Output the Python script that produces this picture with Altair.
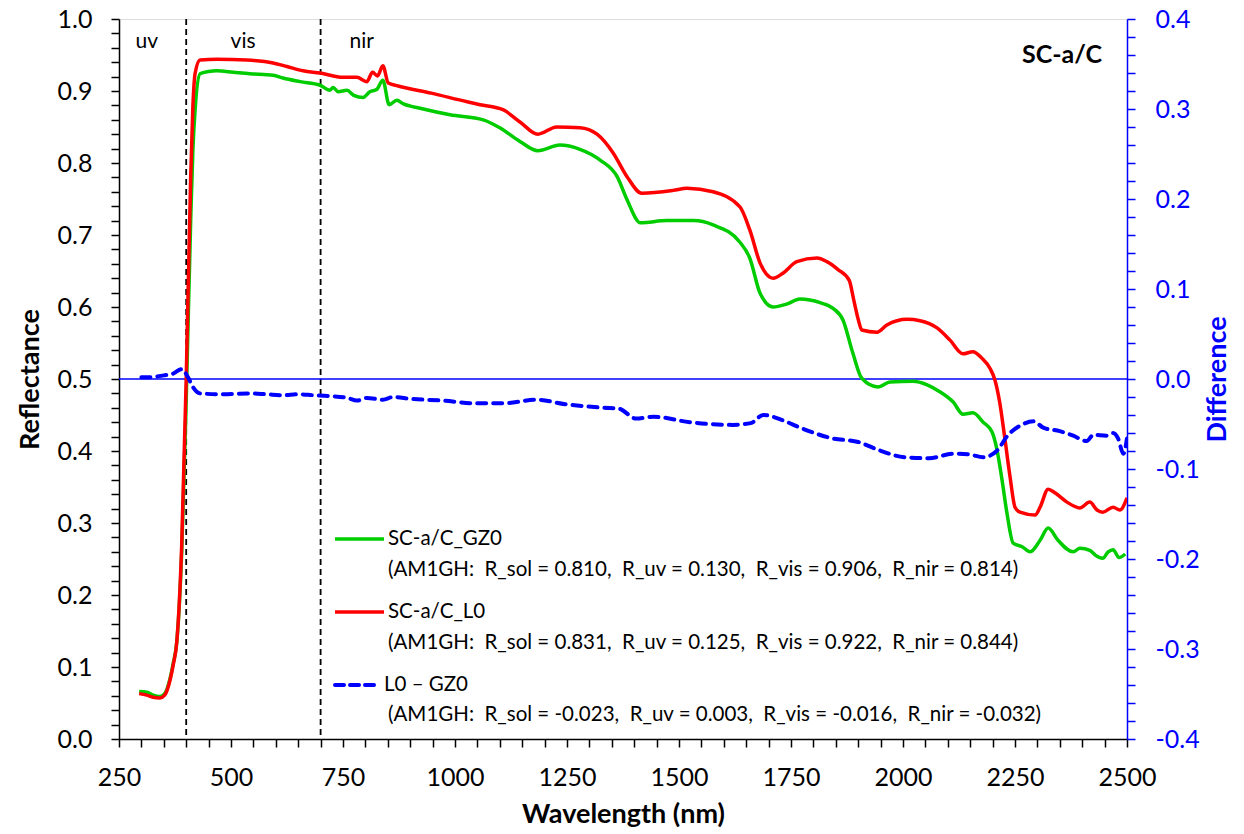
import altair as alt
import pandas as pd

# ---------------- data ----------------
wl_gz0 = [295, 312, 326, 341, 352, 364, 371, 379, 390, 400, 410, 415, 420, 431, 450, 468, 505, 542,
          594, 616, 654, 699, 721, 728, 739, 759, 774, 795, 810, 825, 839, 853, 870, 885, 922, 989,
          1063, 1100, 1145, 1185, 1234, 1279, 1324, 1362, 1384, 1414, 1473, 1533, 1576, 1636, 1658,
          1681, 1710, 1740, 1770, 1815, 1844, 1866, 1888, 1908, 1944, 1971, 2022, 2054, 2083, 2112,
          2134, 2156, 2179, 2199, 2210, 2221, 2232, 2246, 2266, 2284, 2306, 2324, 2346, 2380, 2395,
          2417, 2430, 2446, 2458, 2469, 2482, 2496]
r_gz0 = [0.066, 0.065, 0.061, 0.059, 0.063, 0.084, 0.105, 0.135, 0.26, 0.47, 0.72, 0.82, 0.875, 0.924,
         0.927, 0.928, 0.926, 0.924, 0.922, 0.918, 0.913, 0.908, 0.901, 0.905, 0.899, 0.901, 0.894,
         0.891, 0.899, 0.902, 0.915, 0.881, 0.887, 0.882, 0.876, 0.867, 0.860, 0.849, 0.830, 0.817,
         0.825, 0.819, 0.804, 0.781, 0.749, 0.717, 0.720, 0.720, 0.714, 0.690, 0.668, 0.619, 0.600,
         0.604, 0.611, 0.606, 0.598, 0.582, 0.536, 0.501, 0.489, 0.496, 0.497, 0.492, 0.482, 0.468,
         0.451, 0.453, 0.440, 0.426, 0.401, 0.360, 0.314, 0.272, 0.267, 0.260, 0.276, 0.293, 0.276,
         0.260, 0.265, 0.262, 0.255, 0.251, 0.260, 0.263, 0.252, 0.257]

wl_l0 = [295, 312, 326, 341, 352, 364, 371, 379, 390, 400, 410, 415, 420, 431, 468, 535, 594, 625,
         661, 699, 750, 781, 803, 816, 827, 839, 851, 873, 947, 1027, 1056, 1107, 1145, 1185, 1227,
         1279, 1317, 1353, 1384, 1417, 1487, 1518, 1576, 1636, 1658, 1681, 1710, 1732, 1763, 1808,
         1830, 1855, 1880, 1890, 1900, 1908, 1942, 1964, 2009, 2038, 2076, 2105, 2134, 2156, 2176,
         2194, 2205, 2216, 2227, 2239, 2250, 2261, 2295, 2306, 2324, 2339, 2366, 2395, 2417, 2433,
         2446, 2469, 2484, 2500]
r_l0 = [0.063, 0.061, 0.058, 0.057, 0.061, 0.082, 0.103, 0.135, 0.27, 0.50, 0.78, 0.88, 0.925, 0.943,
        0.944, 0.943, 0.939, 0.934, 0.928, 0.925, 0.919, 0.919, 0.913, 0.926, 0.921, 0.935, 0.911,
        0.907, 0.897, 0.885, 0.881, 0.874, 0.857, 0.840, 0.850, 0.849, 0.840, 0.814, 0.781, 0.758,
        0.762, 0.765, 0.760, 0.739, 0.707, 0.661, 0.640, 0.647, 0.663, 0.668, 0.663, 0.652, 0.637,
        0.610, 0.583, 0.568, 0.565, 0.575, 0.583, 0.581, 0.571, 0.554, 0.535, 0.538, 0.529, 0.515,
        0.499, 0.467, 0.419, 0.364, 0.322, 0.315, 0.311, 0.322, 0.347, 0.342, 0.329, 0.321, 0.329,
        0.318, 0.315, 0.322, 0.318, 0.335]

wl_diff = [300, 319, 350, 371, 390, 404, 415, 431, 480, 542, 580, 616, 650, 683, 721, 760, 781, 803,
           839, 862, 900, 973, 1047, 1109, 1181, 1246, 1333, 1366, 1404, 1444, 1524, 1620, 1660, 1688,
           1732, 1770, 1843, 1900, 1946, 2005, 2058, 2114, 2150, 2179, 2209, 2235, 2261, 2291, 2313,
           2350, 2380, 2410, 2425, 2454, 2469, 2480, 2492, 2500]
d_diff = [0.002, 0.002, 0.004, 0.006, 0.011, 0.002, -0.009, -0.016, -0.017, -0.016, -0.017, -0.018,
          -0.017, -0.018, -0.019, -0.021, -0.024, -0.021, -0.023, -0.020, -0.022, -0.024, -0.027,
          -0.027, -0.023, -0.028, -0.032, -0.033, -0.044, -0.042, -0.048, -0.051, -0.049, -0.040,
          -0.046, -0.054, -0.066, -0.070, -0.079, -0.087, -0.088, -0.083, -0.084, -0.087, -0.080,
          -0.062, -0.052, -0.047, -0.054, -0.058, -0.063, -0.069, -0.062, -0.063, -0.060, -0.066,
          -0.083, -0.066]

series_names = ["SC-a/C_GZ0", "SC-a/C_L0"]
diff_name = "L0 \u2013 GZ0"
NB = "\u00a0"
stats_lines = [
    f"(AM1GH:{NB} R_sol = 0.810,{NB} R_uv = 0.130,{NB} R_vis = 0.906,{NB} R_nir = 0.814)",
    f"(AM1GH:{NB} R_sol = 0.831,{NB} R_uv = 0.125,{NB} R_vis = 0.922,{NB} R_nir = 0.844)",
    f"(AM1GH:{NB} R_sol = -0.023,{NB} R_uv = 0.003,{NB} R_vis = -0.016,{NB} R_nir = -0.032)",
]
region_bounds = [400, 700]
region_labels = ["uv", "vis", "nir"]
region_label_wl = [312, 527, 792]
panel_title = "SC-a/C"

x_tick_values = list(range(250, 2501, 50))
yl_tick_values = [round(i * 0.02, 2) for i in range(51)]
yr_tick_values = [round(-0.4 + i * 0.02, 2) for i in range(41)]

# ---------------- styling ----------------
FONT = "Lato"
GREEN, RED, BLUE = "#00CC00", "#FF0000", "#0000FF"
W, H = 1008, 720

refl = pd.DataFrame({
    "wl": wl_gz0 + wl_l0,
    "R": r_gz0 + r_l0,
    "series": [series_names[0]] * len(wl_gz0) + [series_names[1]] * len(wl_l0),
})
diff = pd.DataFrame({"wl": wl_diff, "D": d_diff})
one = pd.DataFrame({"k": [0]})

xscale = alt.Scale(domain=[250, 2500], nice=False, zero=False)
yL = alt.Scale(domain=[0, 1], nice=False, zero=False)
yR = alt.Scale(domain=[-0.4, 0.4], nice=False, zero=False)

major_label = ("abs(datum.value*10 - round(datum.value*10)) < 0.001 ? "
               "(datum.value < -0.0001 ? '-' : '') + format(abs(datum.value), '.1f') : ''")

x_axis = alt.Axis(
    values=x_tick_values, title="Wavelength (nm)",
    labelExpr="datum.value % 250 == 0 ? format(datum.value, 'd') : ''",
    labelOverlap=False, labelFlush=False, labelFontSize=25, labelFont=FONT, labelColor="black",
    labelPadding=18,
    tickSize=8, tickWidth=1.5, tickColor="black", domainColor="black", domainWidth=1.5,
    titleFont=FONT, titleFontSize=27, titleFontWeight="bold", titleColor="black", titlePadding=11,
    grid=False,
)
yl_axis = alt.Axis(
    orient="left", values=yl_tick_values, title="Reflectance",
    labelExpr=major_label, labelFlush=False,
    labelOverlap=False, labelFontSize=25, labelFont=FONT, labelColor="black", labelPadding=19,
    tickSize=8, tickWidth=1.5, tickColor="black", domainColor="black", domainWidth=1.5,
    titleFont=FONT, titleFontSize=27, titleFontWeight="bold", titleColor="black", titlePadding=13,
    grid=False,
)
yr_axis = alt.Axis(
    orient="right", values=yr_tick_values, title="Difference",
    labelExpr=major_label, labelFlush=False,
    labelOverlap=False, labelFontSize=25, labelFont=FONT, labelColor=BLUE, labelPadding=20,
    tickSize=8, tickWidth=1.5, tickColor=BLUE, domainColor=BLUE, domainWidth=1.5,
    titleFont=FONT, titleFontSize=27, titleFontWeight="bold", titleColor=BLUE, titlePadding=32,
    titleAngle=270, grid=False,
)

lines = alt.Chart(refl).mark_line(
    strokeWidth=3.5, strokeJoin="round", interpolate="monotone", clip=True
).encode(
    x=alt.X("wl:Q", scale=xscale, axis=x_axis),
    y=alt.Y("R:Q", scale=yL, axis=yl_axis),
    color=alt.Color("series:N", scale=alt.Scale(domain=series_names, range=[GREEN, RED]), legend=None),
)

diff_line = alt.Chart(diff).mark_line(
    strokeWidth=4, strokeDash=[9, 7], strokeCap="round", color=BLUE, clip=True, interpolate="monotone"
).encode(
    x=alt.X("wl:Q", scale=xscale, axis=None),
    y=alt.Y("D:Q", scale=yR, axis=yr_axis),
)

zero_rule = alt.Chart(pd.DataFrame({"D": [0.0]})).mark_rule(color=BLUE, strokeWidth=1.3).encode(
    y=alt.Y("D:Q", scale=yR, axis=None),
)

vlines = alt.Chart(pd.DataFrame({"wl": region_bounds})).mark_rule(
    color="black", strokeWidth=1.8, strokeDash=[6, 4]
).encode(x=alt.X("wl:Q", scale=xscale, axis=None))

region_text = alt.Chart(pd.DataFrame({"wl": region_label_wl, "label": region_labels})).mark_text(
    font=FONT, fontSize=21, color="black", align="center", baseline="middle"
).encode(
    x=alt.X("wl:Q", scale=xscale, axis=None),
    y=alt.value(23),
    text="label:N",
)

title_text = alt.Chart(one).mark_text(
    font=FONT, fontSize=25, fontWeight="bold", color="black", align="center", baseline="middle"
).encode(x=alt.value(943), y=alt.value(36), text=alt.value(panel_title))

legend_layers = []
entries = [
    (series_names[0], stats_lines[0], GREEN, None, 520, 551, 269),
    (series_names[1], stats_lines[1], RED, None, 593, 624, 269),
    (diff_name, stats_lines[2], BLUE, [9, 6], 666, 696, 265),
]
for name, stats, col, dash, ly, sy, tx in entries:
    rule_kwargs = dict(color=col, strokeWidth=4 if dash else 3.5)
    if dash:
        rule_kwargs["strokeDash"] = dash
        rule_kwargs["strokeCap"] = "round"
    legend_layers.append(
        alt.Chart(one).mark_rule(**rule_kwargs).encode(
            x=alt.value(216), x2=alt.value(260 if dash else 265), y=alt.value(ly)
        )
    )
    legend_layers.append(
        alt.Chart(one).mark_text(font=FONT, fontSize=20.5, color="black", align="left", baseline="middle").encode(
            x=alt.value(tx), y=alt.value(ly), text=alt.value(name)
        )
    )
    legend_layers.append(
        alt.Chart(one).mark_text(font=FONT, fontSize=20.5, color="black", align="left", baseline="middle").encode(
            x=alt.value(269), y=alt.value(sy), text=alt.value(stats)
        )
    )

chart = alt.layer(
    vlines, zero_rule, lines, diff_line, region_text, title_text, *legend_layers
).resolve_scale(y="independent").resolve_axis(x="independent", y="independent").properties(
    width=W, height=H,
    autosize=alt.AutoSizeParams(type="none"),
    padding={"left": 119, "top": 19, "right": 117, "bottom": 95},
).configure_view(stroke="black", strokeWidth=1.5).configure(background="white")

chart.save("out.html", embed_options={"renderer": "svg", "actions": False})
